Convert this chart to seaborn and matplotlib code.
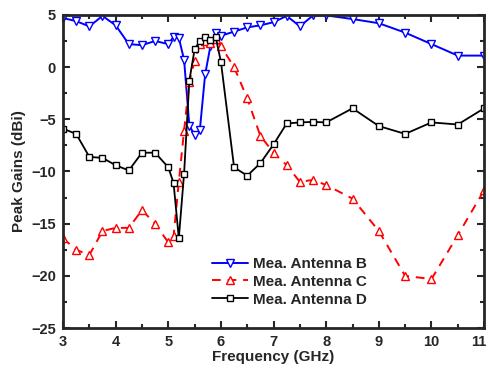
import pandas as pd
import matplotlib
matplotlib.use('Agg')
import matplotlib.pyplot as plt
import matplotlib.transforms as mtransforms
import seaborn as sns
from matplotlib.ticker import MultipleLocator

sns.set_style('ticks')
plt.rcParams['font.family'] = ['Liberation Sans', 'DejaVu Sans']
plt.rcParams['font.weight'] = 'bold'

# Mea. Antenna B
freq_b = [3, 3.25, 3.5, 3.75, 4, 4.25, 4.5, 4.75, 5, 5.1, 5.2, 5.3, 5.4, 5.5, 5.6, 5.7,
          5.8, 5.9, 6, 6.25, 6.5, 6.75, 7, 7.25, 7.5, 7.75, 8, 8.5, 9, 9.5, 10, 10.5, 11]
gain_b = [4.7, 4.4, 3.9, 4.9, 4.0, 2.2, 2.1, 2.5, 2.2, 2.9, 2.8, 0.7, -5.6, -6.5, -6.0, -0.7,
          2.0, 3.3, 3.0, 3.4, 3.8, 4.0, 4.3, 4.9, 3.9, 4.95, 4.95, 4.6, 4.2, 3.3, 2.2, 1.1, 1.1]

# Mea. Antenna C
freq_c = [3, 3.25, 3.5, 3.75, 4, 4.25, 4.5, 4.75, 5, 5.1, 5.2, 5.3, 5.4, 5.5, 5.6, 5.7,
          5.8, 5.9, 6, 6.25, 6.5, 6.75, 7, 7.25, 7.5, 7.75, 8, 8.5, 9, 9.5, 10, 10.5, 11]
gain_c = [-16.4, -17.5, -18.0, -15.7, -15.4, -15.4, -13.7, -15.0, -16.8, -16.2, -11.0, -6.1,
          -1.4, 0.6, 2.2, 2.5, 2.35, 2.7, 2.0, 0.0, -3.0, -6.6, -8.2, -9.4, -11.0, -10.8,
          -11.3, -12.6, -15.7, -20.0, -20.3, -16.1, -11.8]

# Mea. Antenna D
freq_d = [3, 3.25, 3.5, 3.75, 4, 4.25, 4.5, 4.75, 5, 5.1, 5.2, 5.3, 5.4, 5.5, 5.6, 5.7,
          5.8, 5.9, 6, 6.25, 6.5, 6.75, 7, 7.25, 7.5, 7.75, 8, 8.5, 9, 9.5, 10, 10.5, 11]
gain_d = [-5.9, -6.4, -8.6, -8.7, -9.4, -9.9, -8.2, -8.2, -9.6, -11.1, -16.4, -10.2, -1.3,
          1.7, 2.5, 2.9, 2.6, 2.9, 0.5, -9.6, -10.4, -9.2, -7.4, -5.4, -5.3, -5.25, -5.3,
          -3.95, -5.65, -6.4, -5.3, -5.5, -3.95]

df_b = pd.DataFrame({'Frequency': freq_b, 'Gain': gain_b})
df_c = pd.DataFrame({'Frequency': freq_c, 'Gain': gain_c})
df_d = pd.DataFrame({'Frequency': freq_d, 'Gain': gain_d})

fig = plt.figure(figsize=(4.9, 3.72), dpi=100)
ax = fig.add_axes([0.1286, 0.118, 0.8594, 0.842])

sns.lineplot(data=df_b, x='Frequency', y='Gain', ax=ax, sort=False, color='#0000ff',
             lw=1.4, marker='v', markersize=5.5, markerfacecolor='white',
             markeredgecolor='#0000ff', markeredgewidth=1.0, label='Mea. Antenna B')
sns.lineplot(data=df_c, x='Frequency', y='Gain', ax=ax, sort=False, color='#ff0000',
             lw=1.4, marker='^', markersize=5.5, markerfacecolor='white',
             markeredgecolor='#ff0000', markeredgewidth=1.0, label='Mea. Antenna C')
ax.lines[-1].set_dashes([4.5, 3.5])
sns.lineplot(data=df_d, x='Frequency', y='Gain', ax=ax, sort=False, color='black',
             lw=1.3, marker='s', markersize=4.5, markerfacecolor='white',
             markeredgecolor='black', markeredgewidth=1.0, label='Mea. Antenna D')

ax.set_xlim(3, 11)
ax.set_ylim(-25, 5)
ax.xaxis.set_major_locator(MultipleLocator(1))
ax.xaxis.set_minor_locator(MultipleLocator(0.5))
ax.yaxis.set_major_locator(MultipleLocator(5))
ax.yaxis.set_minor_locator(MultipleLocator(2.5))
ax.tick_params(which='both', direction='in', top=True, right=True, width=1.5)
ax.tick_params(which='major', length=5, labelsize=10.5, pad=5)
ax.tick_params(which='minor', length=3)
for sp in ax.spines.values():
    sp.set_linewidth(2)
    sp.set_visible(True)

ax.set_xlabel('Frequency (GHz)', fontsize=11, fontweight='bold', labelpad=1)
ax.set_ylabel('Peak Gains (dBi)', fontsize=11, fontweight='bold', labelpad=4)

ax.legend(loc='lower left', bbox_to_anchor=(0.32, 0.025), frameon=False,
          handlelength=2.4, handletextpad=0.3, labelspacing=0.25,
          prop={'weight': 'bold', 'size': 11})

fig.canvas.draw()
for lbl in ax.get_xticklabels() + ax.get_yticklabels():
    lbl.set_fontweight('bold')
# nudge the last x label so it stays inside the figure
last = ax.xaxis.get_major_ticks()[-1].label1
for t in ax.xaxis.get_major_ticks():
    if abs(t.get_loc() - 11) < 1e-6:
        last = t.label1
last.set_transform(last.get_transform() + mtransforms.ScaledTranslation(-5 / 100, 0, fig.dpi_scale_trans))

fig.savefig('out.png', dpi=100)
